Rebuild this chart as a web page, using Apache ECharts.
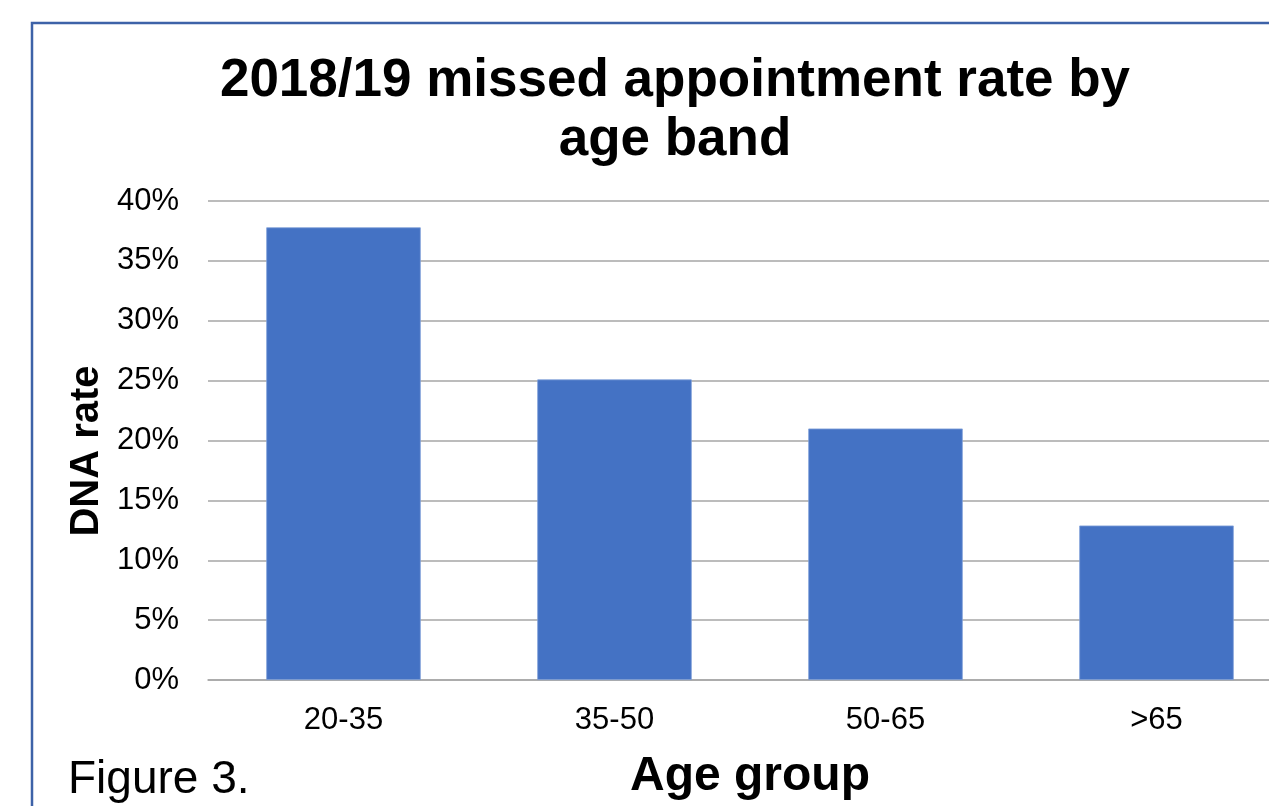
<!DOCTYPE html>
<html>
<head>
<meta charset="utf-8">
<script src="https://cdn.jsdelivr.net/npm/echarts@6/dist/echarts.min.js"></script>
<style>
html,body{margin:0;padding:0;background:#fff;}
#chart{width:1269px;height:806px;}
</style>
</head>
<body>
<div id="chart"></div>
<script>
const categories = ['20-35', '35-50', '50-65', '>65'];
const dnaRate = [37.8, 25.1, 21.0, 12.9];
const yTicks = [0, 5, 10, 15, 20, 25, 30, 35, 40];

const chart = echarts.init(document.getElementById('chart'));
const font = 'Liberation Sans, Arial, sans-serif';
chart.setOption({
  backgroundColor: '#ffffff',
  animation: false,
  grid: { left: 208, right: -23, top: 201, bottom: 126, containLabel: false, outerBoundsMode: 'none' },
  xAxis: {
    type: 'category',
    data: categories,
    axisTick: { show: false },
    axisLine: { lineStyle: { color: '#a6a6a6', width: 1.5 } },
    axisLabel: { color: '#000', fontFamily: font, fontSize: 31, margin: 25 },
    name: 'Age group',
    nameLocation: 'middle',
    nameGap: 73,
    nameTextStyle: { color: '#000', fontFamily: font, fontSize: 48, fontWeight: 'bold' }
  },
  yAxis: {
    type: 'value',
    min: yTicks[0],
    max: yTicks[yTicks.length - 1],
    interval: 5,
    axisLine: { show: false },
    axisTick: { show: false },
    splitLine: { lineStyle: { color: '#a6a6a6', width: 1.5 } },
    axisLabel: { color: '#000', fontFamily: font, fontSize: 31, margin: 29, formatter: v => v + '%' }
  },
  series: [{
    type: 'bar',
    data: dnaRate,
    barWidth: '57%',
    itemStyle: { color: '#4472c4', borderColor: '#7f9fd8', borderWidth: 0.8 }
  }],
  graphic: [
    { type: 'rect', shape: { x: 32, y: 23, width: 1400, height: 900 }, style: { fill: 'none', stroke: '#3d62a8', lineWidth: 2.5 }, z: 100 },
    { type: 'text', x: 675, y: 52, style: { text: '2018/19 missed appointment rate by\nage band', textAlign: 'center', textVerticalAlign: 'top', font: 'bold 53px ' + font, lineHeight: 59, fill: '#000' } },
    { type: 'text', x: 87, y: 451, rotation: Math.PI / 2, style: { text: 'DNA rate', textAlign: 'center', textVerticalAlign: 'middle', font: 'bold 40px ' + font, fill: '#000' } },
    { type: 'text', x: 68, y: 757, style: { text: 'Figure 3.', textAlign: 'left', textVerticalAlign: 'top', font: '46px ' + font, fill: '#000' } }
  ]
});
</script>
</body>
</html>
